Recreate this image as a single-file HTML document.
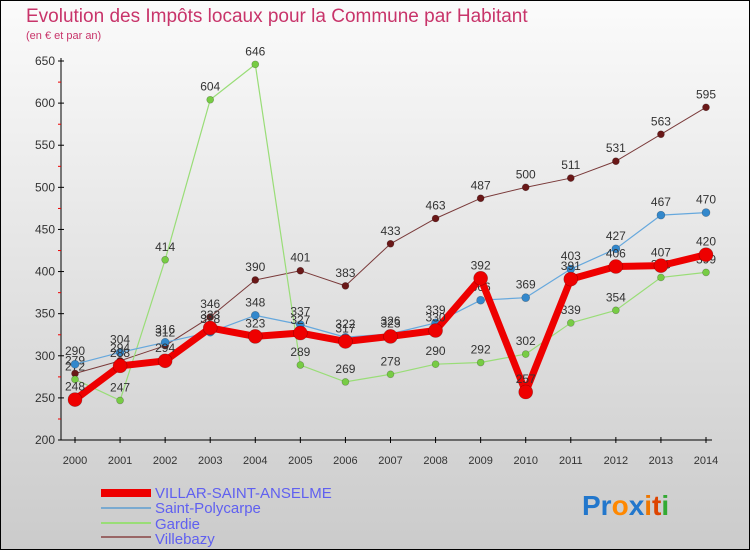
<!DOCTYPE html>
<html><head><meta charset="utf-8"><style>
body{margin:0;width:750px;height:550px;overflow:hidden;font-family:"Liberation Sans",sans-serif}
</style></head><body>
<svg id="chart" width="750" height="550" xmlns="http://www.w3.org/2000/svg" font-family="Liberation Sans, sans-serif">
<defs><linearGradient id="bg" x1="0" y1="0" x2="0" y2="1"><stop offset="0" stop-color="#fbfbfb"/><stop offset="1" stop-color="#cbcbcb"/></linearGradient></defs>
<rect x="0.5" y="0.5" width="749" height="549" fill="url(#bg)" stroke="#000"/>
<text x="26" y="22" font-size="19" fill="#c8346a">Evolution des Impôts locaux pour la Commune par Habitant</text>
<text x="26" y="39" font-size="11" fill="#c8346a">(en € et par an)</text>
<g id="axes"></g><g id="series"></g>
<g font-size="15" fill="#6060f0">
<rect x="101" y="489" width="50" height="8" fill="#e00"/>
<text x="155" y="498">VILLAR-SAINT-ANSELME</text>
<rect x="101" y="507" width="50" height="2" fill="#7aaad0"/>
<text x="155" y="513">Saint-Polycarpe</text>
<rect x="101" y="522" width="50" height="2" fill="#99dd77"/>
<text x="155" y="529">Gardie</text>
<rect x="101" y="536" width="50" height="2" fill="#996666"/>
<text x="155" y="544">Villebazy</text>
</g>
<text x="582" y="515" font-size="28" font-weight="bold"><tspan fill="#2277cc">Pr</tspan><tspan fill="#ff8800">o</tspan><tspan fill="#2277cc">x</tspan><tspan fill="#ee7700">i</tspan><tspan fill="#dd4400">t</tspan><tspan fill="#33aa33">i</tspan></text>
</svg>
<script>
const years=[2000,2001,2002,2003,2004,2005,2006,2007,2008,2009,2010,2011,2012,2013,2014];
const yTicks=[200,250,300,350,400,450,500,550,600,650];
const villar=[248,288,294,333,323,327,317,323,330,392,257,391,406,407,420];
const polycarpe=[290,304,316,328,348,337,322,326,339,366,369,403,427,467,470];
const gardie=[272,247,414,604,646,289,269,278,290,292,302,339,354,393,399];
const villebazy=[279,294,312,346,390,401,383,433,463,487,500,511,531,563,595];
const NS="http://www.w3.org/2000/svg";
const xS=i=>75+i*(706-75)/14;
const yS=v=>440-(v-200)*(440-61)/450;
function mk(tag,attrs,parent,txt){const e=document.createElementNS(NS,tag);for(const k in attrs)e.setAttribute(k,attrs[k]);if(txt!==undefined)e.textContent=txt;parent.appendChild(e);return e;}
const ax=document.getElementById('axes');
let l=mk('line',{x1:61,y1:58,x2:61,y2:440,stroke:'#000'},ax);


l=mk('line',{x1:61,y1:440,x2:712,y2:440,stroke:'#000'},ax);


yTicks.forEach((v,i)=>{const y=yS(v);
 mk('line',{x1:58,y1:y,x2:64,y2:y,stroke:'#000'},ax);
 if(i<yTicks.length-1)mk('line',{x1:58,y1:y-21,x2:61,y2:y-21,stroke:'#e00'},ax);
 const t=mk('text',{x:55,y:y+4,'font-size':12,'text-anchor':'end',fill:'#333'},ax,v);
 
 });
years.forEach((yr,i)=>{const x=xS(i);
 mk('line',{x1:x,y1:437,x2:x,y2:443,stroke:'#000'},ax);
 const t=mk('text',{x:x,y:464,'font-size':11,'text-anchor':'middle',fill:'#333'},ax,yr);
 
 });
const sg=document.getElementById('series');
function draw(name,vals,color,w,r,dot){
 const g=mk('g',{},sg);
 
 
 const p=mk('polyline',{points:vals.map((v,i)=>xS(i)+','+yS(v)).join(' '),fill:'none',stroke:color,'stroke-width':w,'stroke-linejoin':'round'},g);
 
 
 vals.forEach((v,i)=>{const c=mk('circle',{cx:xS(i),cy:yS(v),r:r,fill:dot,stroke:'rgba(0,0,0,0.3)','stroke-width':0.6},g);
  
  
  const t=mk('text',{x:xS(i),y:yS(v)-9,'font-size':12,'text-anchor':'middle',fill:'#333'},g,v);
  
  });
}
draw('villebazy',villebazy,'#7a3a3a',1,3.5,'#6a1818');
draw('gardie',gardie,'#99dd77',1.2,3.5,'#77cc44');
draw('saint-polycarpe',polycarpe,'#66a8dd',1.2,4,'#3388cc');
draw('villar',villar,'#ee0000',7,7,'#ee0000');
</script>
</body></html>
